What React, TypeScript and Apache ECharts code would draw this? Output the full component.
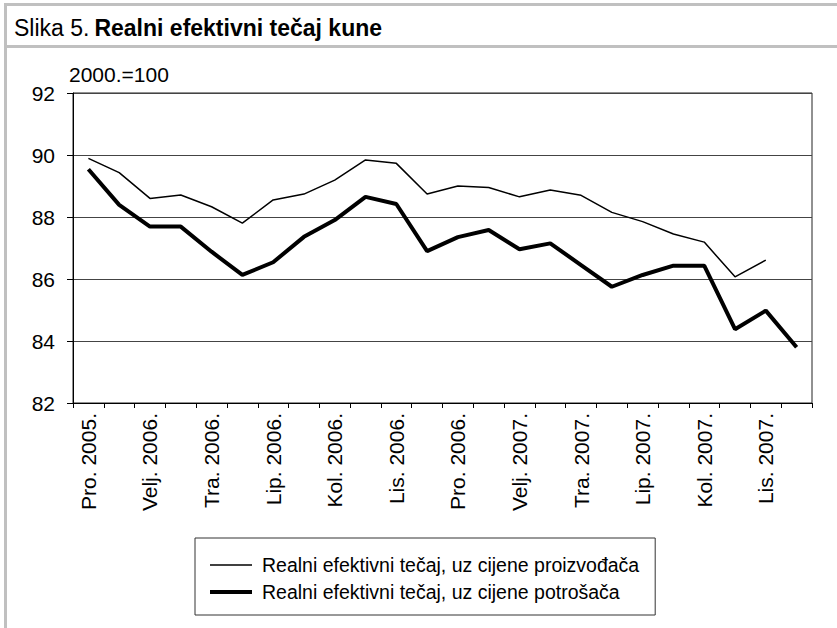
import React, { useEffect, useRef } from "react";
import * as echarts from "echarts";

const categories = [
  "Pro. 2005.", "Sij. 2006.", "Velj. 2006.", "Ožu. 2006.", "Tra. 2006.", "Svi. 2006.",
  "Lip. 2006.", "Srp. 2006.", "Kol. 2006.", "Ruj. 2006.", "Lis. 2006.", "Stu. 2006.",
  "Pro. 2006.", "Sij. 2007.", "Velj. 2007.", "Ožu. 2007.", "Tra. 2007.", "Svi. 2007.",
  "Lip. 2007.", "Srp. 2007.", "Kol. 2007.", "Ruj. 2007.", "Lis. 2007.", "Stu. 2007.",
];

const producerPrices = [
  89.89, 89.43, 88.6, 88.71, 88.33, 87.8, 88.55, 88.74, 89.19, 89.84, 89.73, 88.74,
  89.0, 88.95, 88.65, 88.87, 88.7, 88.15, 87.85, 87.45, 87.19, 86.07, 86.61, null,
];

const consumerPrices = [
  89.54, 88.39, 87.69, 87.69, 86.88, 86.13, 86.54, 87.36, 87.9, 88.65, 88.42, 86.9,
  87.35, 87.58, 86.96, 87.15, 86.45, 85.75, 86.13, 86.43, 86.43, 84.38, 84.98, 83.8,
];

const seriesNames = [
  "Realni efektivni tečaj, uz cijene proizvođača",
  "Realni efektivni tečaj, uz cijene potrošača",
];

const FONT = "'Liberation Sans', Arial, sans-serif";

export default function App() {
  const ref = useRef<HTMLDivElement>(null);

  useEffect(() => {
    document.body.style.margin = "0";
    const chart = echarts.init(ref.current!, null, { renderer: "svg" });
    chart.setOption({
      animation: false,
      backgroundColor: "#ffffff",
      textStyle: { fontFamily: FONT, color: "#000" },
      title: {
        left: 9,
        top: 11,
        text: "{a|Slika 5.} {b|Realni efektivni tečaj kune}",
        textStyle: {
          fontWeight: "normal",
          rich: {
            a: { fontFamily: FONT, fontSize: 23, fontWeight: "normal", color: "#000" },
            b: { fontFamily: FONT, fontSize: 23, fontWeight: "bold", color: "#000" },
          },
        },
      },
      graphic: [
        { type: "rect", shape: { x: 4, y: 3, width: 3, height: 625 }, style: { fill: "#c0c0c0" } },
        { type: "rect", shape: { x: 4, y: 3, width: 833, height: 3 }, style: { fill: "#c0c0c0" } },
        { type: "rect", shape: { x: 4, y: 45, width: 833, height: 3 }, style: { fill: "#c0c0c0" } },
      ],
      grid: {
        left: 73,
        right: 25,
        top: 93,
        height: 310,
        show: true,
        borderColor: "#222",
        borderWidth: 1,
        backgroundColor: "transparent",
      },
      legend: {
        orient: "vertical",
        left: 195,
        top: 538,
        padding: [17, 16, 13, 15],
        itemGap: 7,
        itemWidth: 42,
        itemHeight: 14,
        symbolKeepAspect: true,
        borderColor: "#333",
        borderWidth: 1,
        itemStyle: { color: "#000", borderWidth: 0 },
        textStyle: { fontFamily: FONT, fontSize: 19.5, color: "#000", padding: [0, 0, 0, 5] },
        data: [
          { name: seriesNames[0], icon: "path://M0,0H42V1.5H0Z" },
          { name: seriesNames[1], icon: "path://M0,0H42V4H0Z" },
        ],
      },
      xAxis: {
        type: "category",
        data: categories,
        boundaryGap: true,
        axisLine: { lineStyle: { color: "#000", width: 1 } },
        axisTick: { show: true, interval: 0, length: 5, lineStyle: { color: "#000" } },
        axisLabel: {
          interval: 1,
          rotate: 90,
          margin: 10,
          fontFamily: FONT,
          fontSize: 21,
          color: "#000",
        },
      },
      yAxis: {
        type: "value",
        min: 82,
        max: 92,
        interval: 2,
        name: "2000.=100",
        nameLocation: "end",
        nameGap: 8,
        nameTextStyle: { fontFamily: FONT, fontSize: 21, color: "#000", align: "left", padding: [0, 0, 0, -4] },
        axisLine: { show: true, lineStyle: { color: "#000", width: 1 } },
        axisTick: { show: true, length: 6, lineStyle: { color: "#000" } },
        axisLabel: { margin: 18, fontFamily: FONT, fontSize: 21, color: "#000" },
        splitLine: { show: true, lineStyle: { color: "#444", width: 1 } },
      },
      series: [
        {
          name: seriesNames[0],
          type: "line",
          data: producerPrices,
          symbol: "none",
          lineStyle: { color: "#000", width: 1.5 },
          itemStyle: { color: "#000" },
        },
        {
          name: seriesNames[1],
          type: "line",
          data: consumerPrices,
          symbol: "none",
          lineStyle: { color: "#000", width: 4 },
          itemStyle: { color: "#000" },
        },
      ],
    });
    return () => chart.dispose();
  }, []);

  return (
    <div
      ref={ref}
      style={{ position: "fixed", left: 0, top: 0, width: 837, height: 628 }}
    />
  );
}
